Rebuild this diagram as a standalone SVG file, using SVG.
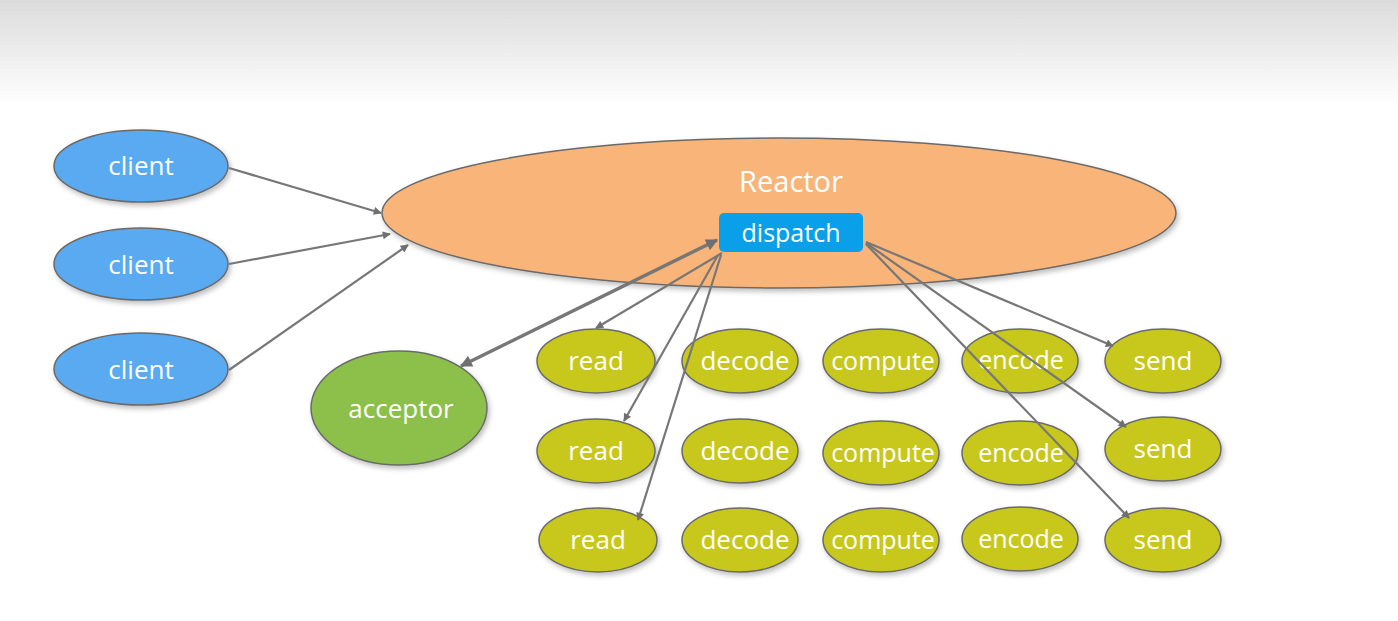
<svg xmlns="http://www.w3.org/2000/svg" width="1398" height="621" viewBox="0 0 1398 621">
<defs>
<linearGradient id="bg" x1="0" y1="0" x2="0" y2="1">
<stop offset="0" stop-color="#dbdbdb"/>
<stop offset="1" stop-color="#ffffff"/>
</linearGradient>
<filter id="sh" x="-20%" y="-20%" width="140%" height="150%">
<feDropShadow dx="2" dy="3" stdDeviation="2.5" flood-color="#000" flood-opacity="0.25"/>
</filter>
<marker id="ah" viewBox="0 0 10 10" refX="9" refY="5" markerWidth="10" markerHeight="8" orient="auto-start-reverse" markerUnits="userSpaceOnUse">
<path d="M0,0 L10,5 L0,10 z" fill="#6f6f6f"/>
</marker>
<marker id="ahb" viewBox="0 0 10 10" refX="9" refY="5" markerWidth="14" markerHeight="12" orient="auto-start-reverse" markerUnits="userSpaceOnUse">
<path d="M0,0 L10,5 L0,10 z" fill="#6f6f6f"/>
</marker>
</defs>
<style>
.n{stroke:#6a6a6a;stroke-width:1.5;filter:url(#sh)}
.client{fill:#5aaaf1}
.work{fill:#c8c81e}
.t{font-family:"Open Sans","Noto Sans",sans-serif;font-weight:500;fill:#ffffff;text-anchor:middle}
.c{stroke:#777;stroke-width:2.2;fill:none;marker-end:url(#ah)}
</style>
<rect x="0" y="0" width="1398" height="621" fill="#ffffff"/>
<rect x="0" y="0" width="1398" height="105" fill="url(#bg)"/>

<g id="reactor">
<ellipse class="n" cx="779" cy="213" rx="397" ry="75" fill="#f8b479"/>
<text class="t" x="791" y="192" font-size="29">Reactor</text>
</g>
<g id="dispatch">
<rect x="719" y="213" width="144" height="39" rx="5" fill="#0aa0e9"/>
<text class="t" x="791" y="242" font-size="25">dispatch</text>
</g>

<g id="client1"><ellipse class="n client" cx="141" cy="166" rx="87" ry="36"/><text class="t" x="141" y="175" font-size="26">client</text></g>
<g id="client2"><ellipse class="n client" cx="141" cy="264" rx="87" ry="36"/><text class="t" x="141" y="274" font-size="26">client</text></g>
<g id="client3"><ellipse class="n client" cx="141" cy="369" rx="87" ry="36"/><text class="t" x="141" y="379" font-size="26">client</text></g>

<g id="acceptor"><ellipse class="n" cx="399" cy="408" rx="88" ry="57" fill="#8dc04c"/><text class="t" x="401" y="418" font-size="26">acceptor</text></g>

<g id="read1"><ellipse class="n work" cx="596" cy="361" rx="59" ry="32"/><text class="t" x="596" y="370" font-size="26">read</text></g>
<g id="read2"><ellipse class="n work" cx="596" cy="451" rx="59" ry="32"/><text class="t" x="596" y="460" font-size="26">read</text></g>
<g id="read3"><ellipse class="n work" cx="598" cy="540" rx="59" ry="32"/><text class="t" x="598" y="549" font-size="26">read</text></g>

<g id="decode1"><ellipse class="n work" cx="740" cy="361" rx="58" ry="32"/><text class="t" x="745" y="370" font-size="26">decode</text></g>
<g id="decode2"><ellipse class="n work" cx="740" cy="451" rx="58" ry="32"/><text class="t" x="745" y="460" font-size="26">decode</text></g>
<g id="decode3"><ellipse class="n work" cx="740" cy="540" rx="58" ry="32"/><text class="t" x="745" y="549" font-size="26">decode</text></g>

<g id="compute1"><ellipse class="n work" cx="881" cy="361" rx="58" ry="32"/><text class="t" x="883" y="370" font-size="25">compute</text></g>
<g id="compute2"><ellipse class="n work" cx="881" cy="453" rx="58" ry="32"/><text class="t" x="883" y="462" font-size="25">compute</text></g>
<g id="compute3"><ellipse class="n work" cx="881" cy="540" rx="58" ry="32"/><text class="t" x="883" y="549" font-size="25">compute</text></g>

<g id="encode1"><ellipse class="n work" cx="1020" cy="361" rx="58" ry="32"/><text class="t" x="1021" y="369" font-size="25">encode</text></g>
<g id="encode2"><ellipse class="n work" cx="1020" cy="453" rx="58" ry="32"/><text class="t" x="1021" y="462" font-size="25">encode</text></g>
<g id="encode3"><ellipse class="n work" cx="1020" cy="539" rx="58" ry="32"/><text class="t" x="1021" y="548" font-size="25">encode</text></g>

<g id="send1"><ellipse class="n work" cx="1163" cy="361" rx="58" ry="32"/><text class="t" x="1163" y="370" font-size="26">send</text></g>
<g id="send2"><ellipse class="n work" cx="1163" cy="449" rx="58" ry="32"/><text class="t" x="1163" y="458" font-size="26">send</text></g>
<g id="send3"><ellipse class="n work" cx="1163" cy="540" rx="58" ry="32"/><text class="t" x="1163" y="549" font-size="26">send</text></g>

<g id="connectors">
<line class="c" x1="229" y1="168" x2="381" y2="213"/>
<line class="c" x1="229" y1="264" x2="390" y2="234"/>
<line class="c" x1="229" y1="370" x2="408" y2="245"/>
<line x1="461" y1="366" x2="717" y2="240" stroke="#777" stroke-width="3.5" marker-start="url(#ahb)" marker-end="url(#ahb)"/>
<line class="c" x1="722" y1="253" x2="596" y2="328"/>
<line class="c" x1="718" y1="255" x2="624" y2="421"/>
<line class="c" x1="721" y1="255" x2="638" y2="520"/>
<line class="c" x1="866" y1="242" x2="1113" y2="346"/>
<line class="c" x1="866" y1="243" x2="1126" y2="427"/>
<line class="c" x1="866" y1="244" x2="1129" y2="518"/>
</g>
</svg>
